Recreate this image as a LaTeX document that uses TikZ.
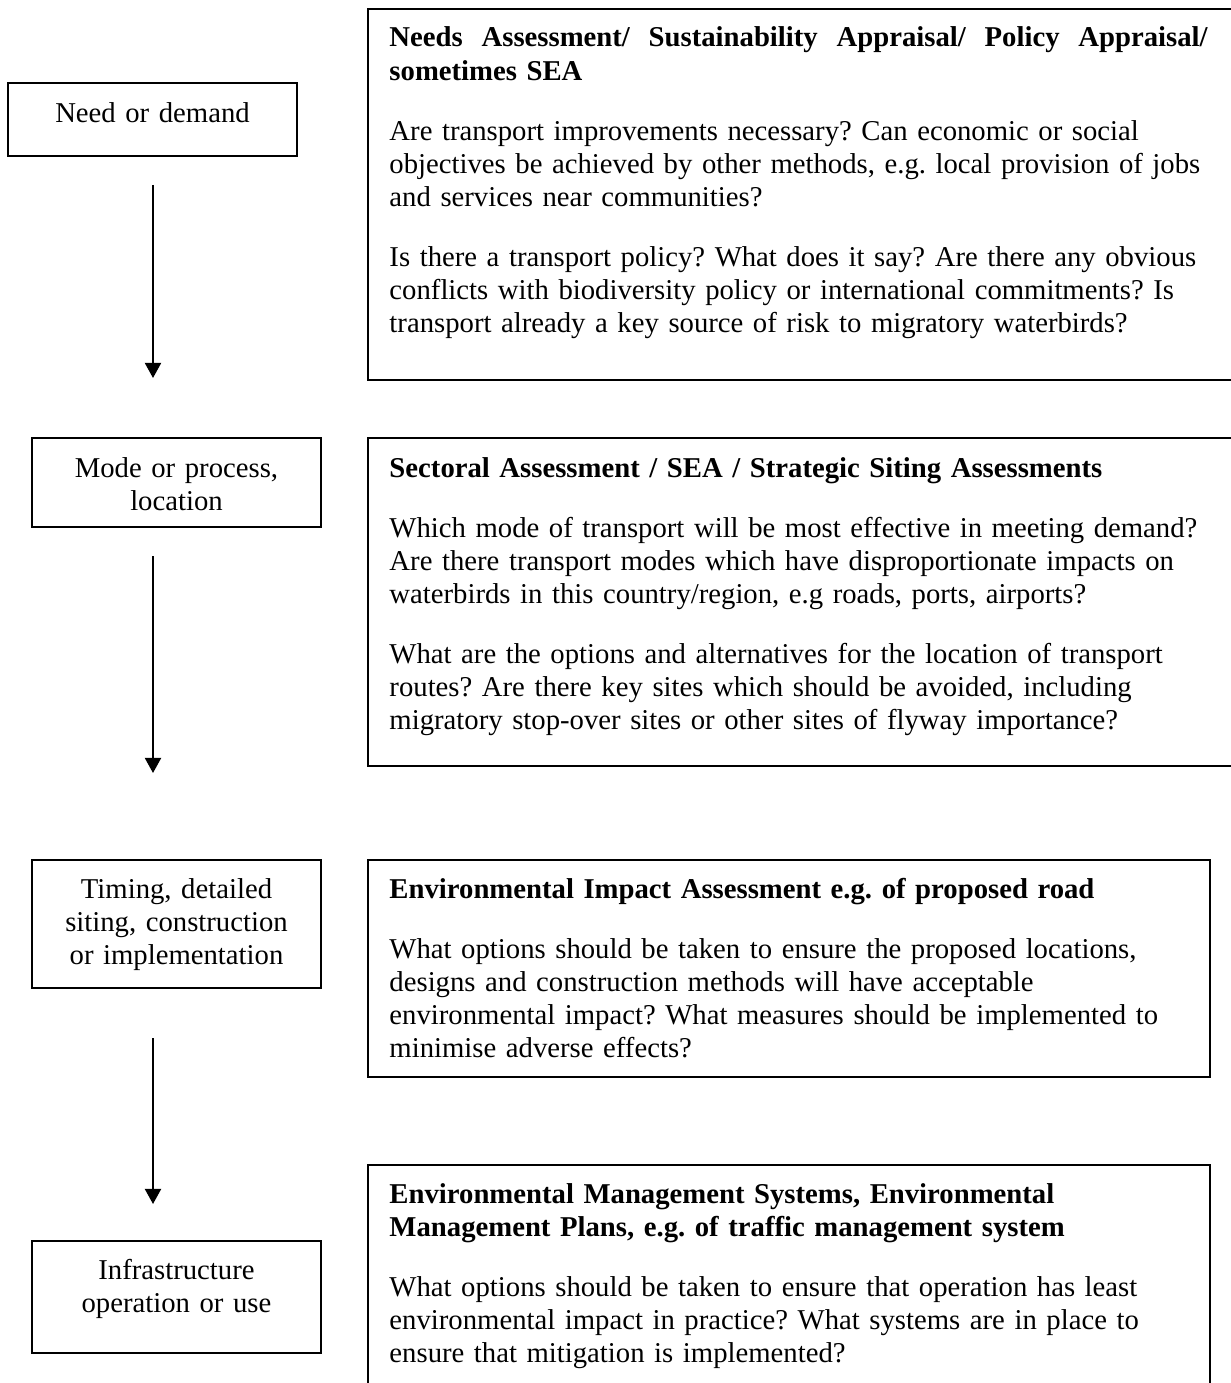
\documentclass[tikz,border=0pt]{standalone}
\usepackage{fontspec}
\setmainfont{Liberation Serif}
\usetikzlibrary{arrows.meta}
\frenchspacing
\begin{document}
\frenchspacing
\begin{tikzpicture}[x=0.418pt,y=-0.418pt,
  txt/.style={font=\fontsize{12}{13.8}\selectfont\frenchspacing, inner sep=0pt},
  lbox/.style={draw, line width=0.9pt, rectangle, inner sep=0pt, minimum width=289*0.418pt},
  rtext/.style={txt, anchor=base west, align=left, text width=350pt},
  ltext/.style={txt, anchor=base, align=center, text width=120pt},
  flow/.style={line width=0.85pt, -{Triangle[length=6.3pt,width=6.7pt]}},
  rframe/.style={line width=0.9pt}]
\useasboundingbox (0,0) rectangle (1231,1383);
\clip (0,0) rectangle (1231,1383);

% left boxes
\node[lbox, minimum height=73*0.418pt] (b1) at (152.5,119.5) {};
\node[ltext] (t1) at (152.5,123) {Need or demand};
\node[lbox, minimum height=89*0.418pt] (b2) at (176.5,482.5) {};
\node[ltext] (t2) at (176.5,477) {Mode or process,\\ location};
\node[lbox, minimum height=128*0.418pt] (b3) at (176.5,924) {};
\node[ltext] (t3) at (176.5,898) {Timing, detailed\\ siting, construction\\ or implementation};
\node[lbox, minimum height=112*0.418pt] (b4) at (176.5,1297) {};
\node[ltext] (t4) at (176.5,1279) {Infrastructure\\ operation or use};

% arrows
\coordinate (a1s) at (153,185); \coordinate (a1e) at (153,378);
\coordinate (a2s) at (153,556); \coordinate (a2e) at (153,773);
\coordinate (a3s) at (153,1038); \coordinate (a3e) at (153,1204);
\draw[flow] (a1s) -- (a1e);
\draw[flow] (a2s) -- (a2e);
\draw[flow] (a3s) -- (a3e);

% right boxes
\draw[rframe] (368,9) rectangle (1240,380);
\draw[rframe] (368,438) rectangle (1240,766);
\draw[rframe] (368,860) rectangle (1210,1077);
\draw[rframe] (368,1165) rectangle (1210,1400);

\node[rtext] (r1) at (389,47) {\hbox to 342pt{\bfseries Needs\hfill Assessment/\hfill Sustainability\hfill Appraisal/\hfill Policy\hfill Appraisal/}\\
\textbf{sometimes SEA}\\[11.3pt]
Are transport improvements necessary? Can economic or social\\
objectives be achieved by other methods, e.g. local provision of jobs\\
and services near communities?\\[11.3pt]
Is there a transport policy? What does it say? Are there any obvious\\
conflicts with biodiversity policy or international commitments? Is\\
transport already a key source of risk to migratory waterbirds?};

\node[rtext] (r2) at (389,477) {\textbf{Sectoral Assessment / SEA / Strategic Siting Assessments}\\[11.3pt]
Which mode of transport will be most effective in meeting demand?\\
Are there transport modes which have disproportionate impacts on\\
waterbirds in this country/region, e.g roads, ports, airports?\\[11.3pt]
What are the options and alternatives for the location of transport\\
routes? Are there key sites which should be avoided, including\\
migratory stop-over sites or other sites of flyway importance?};

\node[rtext] (r3) at (389,898) {\textbf{Environmental Impact Assessment e.g. of proposed road}\\[11.3pt]
What options should be taken to ensure the proposed locations,\\
designs and construction methods will have acceptable\\
environmental impact? What measures should be implemented to\\
minimise adverse effects?};

\node[rtext] (r4) at (389,1203) {\textbf{Environmental Management Systems, Environmental}\\
\textbf{Management Plans, e.g. of traffic management system}\\[11.3pt]
What options should be taken to ensure that operation has least\\
environmental impact in practice? What systems are in place to\\
ensure that mitigation is implemented?};
\end{tikzpicture}
\end{document}
